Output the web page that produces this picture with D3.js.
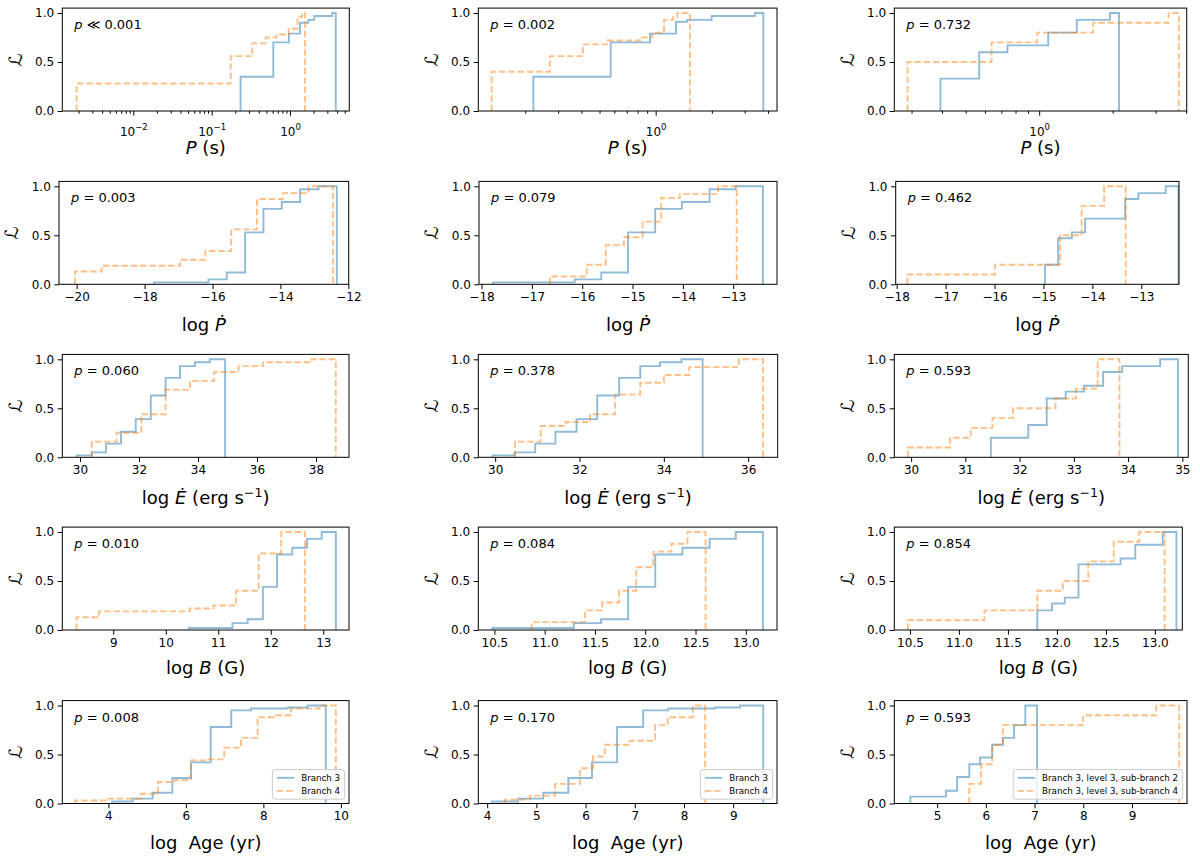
<!DOCTYPE html>
<html>
<head>
<meta charset="utf-8">
<script src="https://cdn.jsdelivr.net/npm/d3@7"></script>
<style>
  body { margin: 0; background: #fff; }
  svg { display: block; font-family: 'DejaVu Sans', sans-serif; }
</style>
</head>
<body>
<svg id="fig" width="1200" height="859"></svg>
<script>
// each series: [x, level] = the cumulative level reached at x; last entry drops back to 0

// row 1: spin period P (s), log axis
const periodDomain = [[0.00124, 5.72], [0.112, 4.47], [0.255, 4.02]];
const periodTicks = [[0.01, 0.1, 1], [1], [1]];
const periodBranch3 = [
  [[0.234, 0.35], [0.612, 0.70], [0.970, 0.79], [1.343, 0.90], [1.714, 0.93], [2.042, 0.97], [3.467, 1.0], [3.846, 0]],
  [[0.221, 0.35], [0.574, 0.70], [0.933, 0.79], [1.285, 0.91], [1.479, 0.93], [1.995, 0.97], [3.404, 1.0], [3.776, 0]],
  [[0.394, 0.33], [0.568, 0.60], [0.741, 0.67], [1.089, 0.80], [1.426, 0.93], [1.950, 1.0], [2.123, 0]]
];
const periodBranch4 = [
  [[0.00189, 0.28], [0.175, 0.56], [0.330, 0.69], [0.490, 0.75], [0.676, 0.78], [0.962, 0.84], [1.25, 0.96], [1.43, 1.0], [1.56, 0]],
  [[0.132, 0.40], [0.271, 0.56], [0.407, 0.68], [0.550, 0.72], [0.824, 0.75], [0.959, 0.80], [1.109, 0.93], [1.242, 0.96], [1.306, 1.0], [1.528, 0]],
  [[0.289, 0.50], [0.638, 0.70], [0.982, 0.80], [1.663, 0.90], [3.388, 1.0], [3.733, 0]]
];
const periodP = ['p \u226A 0.001', 'p = 0.002', 'p = 0.732'];

// row 2: log Pdot
const pdotDomain = [[-20.52, -11.99], [-18.05, -12.13], [-18.02, -12.23]];
const pdotTicks = [[-20, -18, -16, -14, -12], [-18, -17, -16, -15, -14, -13], [-18, -17, -16, -15, -14, -13]];
const pdotBranch3 = [
  [[-17.72, 0.02], [-16.12, 0.05], [-15.58, 0.12], [-15.04, 0.53], [-14.5, 0.77], [-13.96, 0.84], [-13.42, 0.97], [-12.88, 1.0], [-12.34, 0]],
  [[-17.77, 0.02], [-16.15, 0.05], [-15.62, 0.12], [-15.09, 0.53], [-14.55, 0.77], [-14.02, 0.84], [-13.47, 0.97], [-12.95, 1.0], [-12.41, 0]],
  [[-14.97, 0.2], [-14.7, 0.47], [-14.42, 0.53], [-14.15, 0.67], [-13.33, 0.87], [-13.06, 0.93], [-12.5, 1.0], [-12.24, 0]]
];
const pdotBranch4 = [
  [[-20.05, 0.13], [-19.26, 0.19], [-16.95, 0.25], [-16.21, 0.34], [-15.45, 0.56], [-14.69, 0.87], [-13.93, 0.93], [-13.17, 1.0], [-12.45, 0]],
  [[-16.64, 0.08], [-15.91, 0.2], [-15.53, 0.4], [-15.17, 0.48], [-14.8, 0.64], [-14.43, 0.88], [-14.06, 0.92], [-13.3, 1.0], [-12.93, 0]],
  [[-17.78, 0.1], [-15.99, 0.2], [-14.66, 0.5], [-14.22, 0.8], [-13.76, 1.0], [-13.32, 0]]
];
const pdotP = ['p = 0.003', 'p = 0.079', 'p = 0.462'];

// row 3: log Edot (erg/s)
const edotDomain = [[29.4, 39.12], [29.6, 36.7], [29.69, 35.11]];
const edotTicks = [[30, 32, 34, 36, 38], [30, 32, 34, 36], [30, 31, 32, 33, 34, 35]];
const edotBranch3 = [
  [[29.89, 0.02], [30.4, 0.05], [30.88, 0.14], [31.39, 0.26], [31.89, 0.39], [32.4, 0.63], [32.9, 0.81], [33.39, 0.93], [33.9, 0.97], [34.4, 1.0], [34.92, 0]],
  [[29.94, 0.02], [30.46, 0.05], [30.95, 0.14], [31.43, 0.26], [31.93, 0.39], [32.42, 0.63], [32.94, 0.81], [33.44, 0.93], [33.91, 0.97], [34.42, 1.0], [34.92, 0]],
  [[31.47, 0.2], [32.16, 0.33], [32.5, 0.6], [32.85, 0.67], [33.19, 0.73], [33.54, 0.87], [33.89, 0.93], [34.59, 1.0], [34.92, 0]]
];
const edotBranch4 = [
  [[30.4, 0.16], [31.24, 0.25], [32.08, 0.44], [32.9, 0.69], [33.73, 0.78], [34.55, 0.87], [35.37, 0.93], [36.21, 0.97], [37.85, 1.0], [38.67, 0]],
  [[30.47, 0.16], [31.08, 0.32], [31.67, 0.36], [32.25, 0.44], [32.84, 0.64], [33.44, 0.76], [34.0, 0.84], [34.6, 0.92], [35.78, 1.0], [36.35, 0]],
  [[29.94, 0.1], [30.72, 0.2], [31.1, 0.3], [31.5, 0.4], [31.88, 0.5], [32.66, 0.6], [33.04, 0.7], [33.44, 1.0], [33.84, 0]]
];
const edotP = ['p = 0.060', 'p = 0.378', 'p = 0.593'];

// row 4: log B (G)
const bDomain = [[8.03, 13.49], [10.34, 13.31], [10.34, 13.28]];
const bTicks = [[9, 10, 11, 12, 13], [10.5, 11, 11.5, 12, 12.5, 13], [10.5, 11, 11.5, 12, 12.5, 13]];
const bBranch3 = [
  [[10.44, 0.02], [11.27, 0.07], [11.56, 0.11], [11.85, 0.44], [12.12, 0.77], [12.41, 0.84], [12.69, 0.93], [12.97, 1.0], [13.24, 0]],
  [[10.48, 0.02], [11.29, 0.07], [11.56, 0.11], [11.83, 0.44], [12.1, 0.77], [12.37, 0.84], [12.64, 0.93], [12.9, 1.0], [13.17, 0]],
  [[11.8, 0.2], [11.95, 0.27], [12.08, 0.33], [12.22, 0.67], [12.65, 0.73], [12.8, 0.87], [13.08, 1.0], [13.22, 0]]
];
const bBranch4 = [
  [[8.3, 0.13], [8.73, 0.19], [10.46, 0.22], [10.91, 0.25], [11.34, 0.4], [11.77, 0.78], [12.2, 1.0], [12.65, 0]],
  [[10.87, 0.08], [11.4, 0.2], [11.57, 0.28], [11.74, 0.4], [11.91, 0.64], [12.08, 0.8], [12.26, 0.88], [12.42, 1.0], [12.6, 0]],
  [[10.48, 0.1], [11.26, 0.2], [11.8, 0.4], [12.06, 0.5], [12.32, 0.7], [12.58, 0.9], [12.84, 1.0], [13.1, 0]]
];
const bP = ['p = 0.010', 'p = 0.084', 'p = 0.854'];

// row 5: log Age (yr)
const ageDomain = [[2.81, 10.21], [3.82, 9.89], [4.12, 10.13]];
const ageTicks = [[4, 6, 8, 10], [4, 5, 6, 7, 8, 9], [5, 6, 7, 8, 9]];
const ageBranch3 = [
  [[4.1, 0.02], [4.63, 0.05], [5.14, 0.11], [5.65, 0.26], [6.13, 0.42], [6.64, 0.78], [7.17, 0.95], [7.68, 0.97], [8.63, 0.98], [9.14, 1.0], [9.61, 0]],
  [[4.1, 0.02], [4.63, 0.05], [5.14, 0.11], [5.65, 0.26], [6.13, 0.42], [6.64, 0.78], [7.17, 0.95], [7.68, 0.97], [8.63, 0.98], [9.14, 1.0], [9.61, 0]],
  [[4.45, 0.07], [5.18, 0.13], [5.41, 0.27], [5.66, 0.4], [5.88, 0.47], [6.13, 0.6], [6.35, 0.67], [6.58, 0.8], [6.81, 1.0], [7.05, 0]]
];
const ageBranch4 = [
  [[3.14, 0.03], [3.99, 0.05], [4.84, 0.1], [5.28, 0.22], [5.71, 0.24], [6.13, 0.44], [6.56, 0.45], [6.99, 0.57], [7.42, 0.67], [7.85, 0.88], [8.28, 0.9], [8.71, 0.97], [9.45, 1.0], [9.87, 0]],
  [[4.36, 0.04], [4.87, 0.08], [5.38, 0.2], [5.89, 0.36], [6.15, 0.48], [6.39, 0.6], [6.9, 0.64], [7.41, 0.8], [7.67, 0.88], [8.18, 1.0], [8.43, 0]],
  [[5.66, 0.2], [5.9, 0.4], [6.13, 0.6], [6.35, 0.8], [8.0, 0.9], [9.5, 1.0], [9.97, 0]]
];
const ageP = ['p = 0.008', 'p = 0.170', 'p = 0.593'];

const legendLabels = [
  ['Branch 3', 'Branch 4'],
  ['Branch 3', 'Branch 4'],
  ['Branch 3, level 3, sub-branch 2', 'Branch 3, level 3, sub-branch 4']
];
const yTicks = [0, 0.5, 1.0];

// layout (pixels)
const rowBottom = [111, 284.3, 457.3, 630, 803.5];
const axH = 102.9;
const colSpans = [
  [[62.3, 349.3], [478.3, 777], [894.3, 1186.7]],
  [[59, 348.7], [479, 777], [895.7, 1179]],
  [[62.3, 349], [478.3, 777.7], [894.3, 1188.3]],
  [[62.3, 349], [478.3, 777], [894.3, 1182.3]],
  [[62.3, 349], [478.3, 777], [894.3, 1187]]
];
const xLabelDrop = [43, 46.5, 47, 43.7, 45];

const rows = [
  { log: true, dom: periodDomain, ticks: periodTicks, b3: periodBranch3, b4: periodBranch4, pv: periodP,
    label: [{ t: 'P', i: true }, { t: ' (s)' }] },
  { dom: pdotDomain, ticks: pdotTicks, b3: pdotBranch3, b4: pdotBranch4, pv: pdotP, fmt: 'd',
    label: [{ t: 'log ' }, { t: '\u1E56', i: true }] },
  { dom: edotDomain, ticks: edotTicks, b3: edotBranch3, b4: edotBranch4, pv: edotP, fmt: 'd',
    label: [{ t: 'log ' }, { t: '\u0116', i: true }, { t: ' (erg s' }, { t: '\u22121', sup: true }, { t: ')' }] },
  { dom: bDomain, ticks: bTicks, b3: bBranch3, b4: bBranch4, pv: bP, fmt: ['d', '.1f', '.1f'],
    label: [{ t: 'log ' }, { t: 'B', i: true }, { t: ' (G)' }] },
  { dom: ageDomain, ticks: ageTicks, b3: ageBranch3, b4: ageBranch4, pv: ageP, fmt: 'd', legend: true,
    label: [{ t: 'log  Age (yr)' }] }
];

const svg = d3.select('#fig');
const defs = svg.append('defs');
const blueC = '#1f77b4', orangeC = '#ff7f0e';
const dashPat = '6.5,2.8';

function styleAxis(a) {
  a.select('.domain').remove();
  a.attr('font-size', 12).attr('font-family', null);
  a.selectAll('line').attr('stroke', '#000').attr('stroke-width', 1);
  a.selectAll('text').attr('fill', '#000');
}

function richText(sel, parts, fs) {
  let shift = 0;
  parts.forEach(p => {
    const ts = sel.append('tspan').text(p.t);
    if (p.i) ts.attr('font-style', 'italic');
    if (p.sup) {
      ts.attr('font-size', fs * 0.7).attr('dy', -fs * 0.42);
      shift = fs * 0.42;
    } else if (shift) {
      ts.attr('dy', shift);
      shift = 0;
    }
  });
}

function drawLegend(g, x1, bottom, labels) {
  const fs = 8.7;
  const pad = 0.4 * fs, handle = 2 * fs, hpad = 0.8 * fs, rowGap = 1.5 * fs;
  const lg = g.append('g');
  const box = lg.append('rect');
  const texts = labels.map(l => lg.append('text').attr('font-size', fs).text(l));
  const tw = d3.max(texts, t => t.node().getComputedTextLength());
  const w = pad * 2 + handle + hpad + tw + 2;
  const h = pad * 2 + fs * 1.1 + rowGap;
  const bx = x1 - 0.5 * fs - w, by = bottom - 0.5 * fs - h;
  box.attr('x', bx).attr('y', by).attr('width', w).attr('height', h).attr('rx', 2.5)
    .attr('fill', '#fff').attr('fill-opacity', 0.8).attr('stroke', '#cccccc').attr('stroke-width', 1);
  [[blueC, null], [orangeC, dashPat]].forEach(([col, dash], k) => {
    const cy = by + pad + fs * 0.55 + k * rowGap;
    lg.append('line').attr('x1', bx + pad + 1).attr('x2', bx + pad + 1 + handle)
      .attr('y1', cy).attr('y2', cy).attr('stroke', col).attr('stroke-opacity', 0.5)
      .attr('stroke-width', 1.9).attr('stroke-dasharray', dash);
    texts[k].attr('x', bx + pad + 1 + handle + hpad).attr('y', cy).attr('dy', '0.35em');
  });
}

rows.forEach((row, r) => {
  row.dom.forEach((dom, c) => {
    const [x0, x1] = colSpans[r][c];
    const bottom = rowBottom[r], top = bottom - axH;
    const g = svg.append('g');
    const x = (row.log ? d3.scaleLog() : d3.scaleLinear()).domain(dom).range([x0, x1]);
    const y = d3.scaleLinear().domain([0, 1.05]).range([bottom, top]);

    const clipId = 'clip' + r + c;
    defs.append('clipPath').attr('id', clipId).append('rect')
      .attr('x', x0).attr('y', top).attr('width', x1 - x0).attr('height', axH);

    const line = d3.line().x(d => x(d[0])).y(d => y(d[1])).curve(d3.curveStepAfter);
    [[row.b3[c], blueC, null], [row.b4[c], orangeC, dashPat]].forEach(([s, col, dash]) => {
      const pts = [[s[0][0], 0]].concat(s);
      g.append('path').attr('clip-path', `url(#${clipId})`).attr('d', line(pts))
        .attr('fill', 'none').attr('stroke', col).attr('stroke-opacity', 0.5)
        .attr('stroke-width', 1.9).attr('stroke-dasharray', dash);
    });

    // y axis
    g.append('g').attr('transform', `translate(${x0},0)`)
      .call(d3.axisLeft(y).tickValues(yTicks).tickFormat(d3.format('.1f')).tickSize(4.7).tickPadding(3.5))
      .call(styleAxis);

    // x axis
    if (row.log) {
      const minors = [];
      for (let k = Math.floor(Math.log10(dom[0])); k <= Math.ceil(Math.log10(dom[1])); k++) {
        for (let m = 2; m <= 9; m++) {
          const v = m * Math.pow(10, k);
          if (v >= dom[0] && v <= dom[1]) minors.push(v);
        }
      }
      g.append('g').attr('transform', `translate(0,${bottom})`)
        .call(d3.axisBottom(x).tickValues(minors).tickFormat('').tickSize(2.7))
        .call(styleAxis);
      const ax = g.append('g').attr('transform', `translate(0,${bottom})`)
        .call(d3.axisBottom(x).tickValues(row.ticks[c]).tickFormat('').tickSize(4.7))
        .call(styleAxis);
      ax.selectAll('.tick').each(function (v) {
        const t = d3.select(this).append('text').attr('y', 24.5).attr('text-anchor', 'middle')
          .attr('font-size', 12).attr('fill', '#000');
        t.append('tspan').text('10');
        t.append('tspan').attr('font-size', 8.5).attr('dy', -5.5)
          .text(d3.format('d')(Math.round(Math.log10(v))));
      });
    } else {
      const f = Array.isArray(row.fmt) ? row.fmt[c] : row.fmt;
      g.append('g').attr('transform', `translate(0,${bottom})`)
        .call(d3.axisBottom(x).tickValues(row.ticks[c]).tickFormat(d3.format(f)).tickSize(4.7).tickPadding(3.5))
        .call(styleAxis);
    }

    // frame
    g.append('rect').attr('x', x0).attr('y', top).attr('width', x1 - x0).attr('height', axH)
      .attr('fill', 'none').attr('stroke', '#000').attr('stroke-width', 1);

    // labels
    const xl = g.append('text').attr('x', (x0 + x1) / 2).attr('y', bottom + xLabelDrop[r])
      .attr('text-anchor', 'middle').attr('font-size', 18).style('white-space', 'pre');
    richText(xl, row.label, 18);

    g.append('text').attr('transform', `translate(${x0 - 47},${(top + bottom) / 2}) rotate(-90)`)
      .attr('text-anchor', 'middle').attr('dy', '0.35em').attr('font-size', 18)
      .text('\u2112');

    const pt = g.append('text').attr('x', x0 + 12).attr('y', top + 21).attr('font-size', 13);
    const pv = row.pv[c];
    pt.append('tspan').attr('font-style', 'italic').text(pv.slice(0, 1));
    pt.append('tspan').text(pv.slice(1));

    if (row.legend) drawLegend(g, x1, bottom, legendLabels[c]);
  });
});
</script>
</body>
</html>
